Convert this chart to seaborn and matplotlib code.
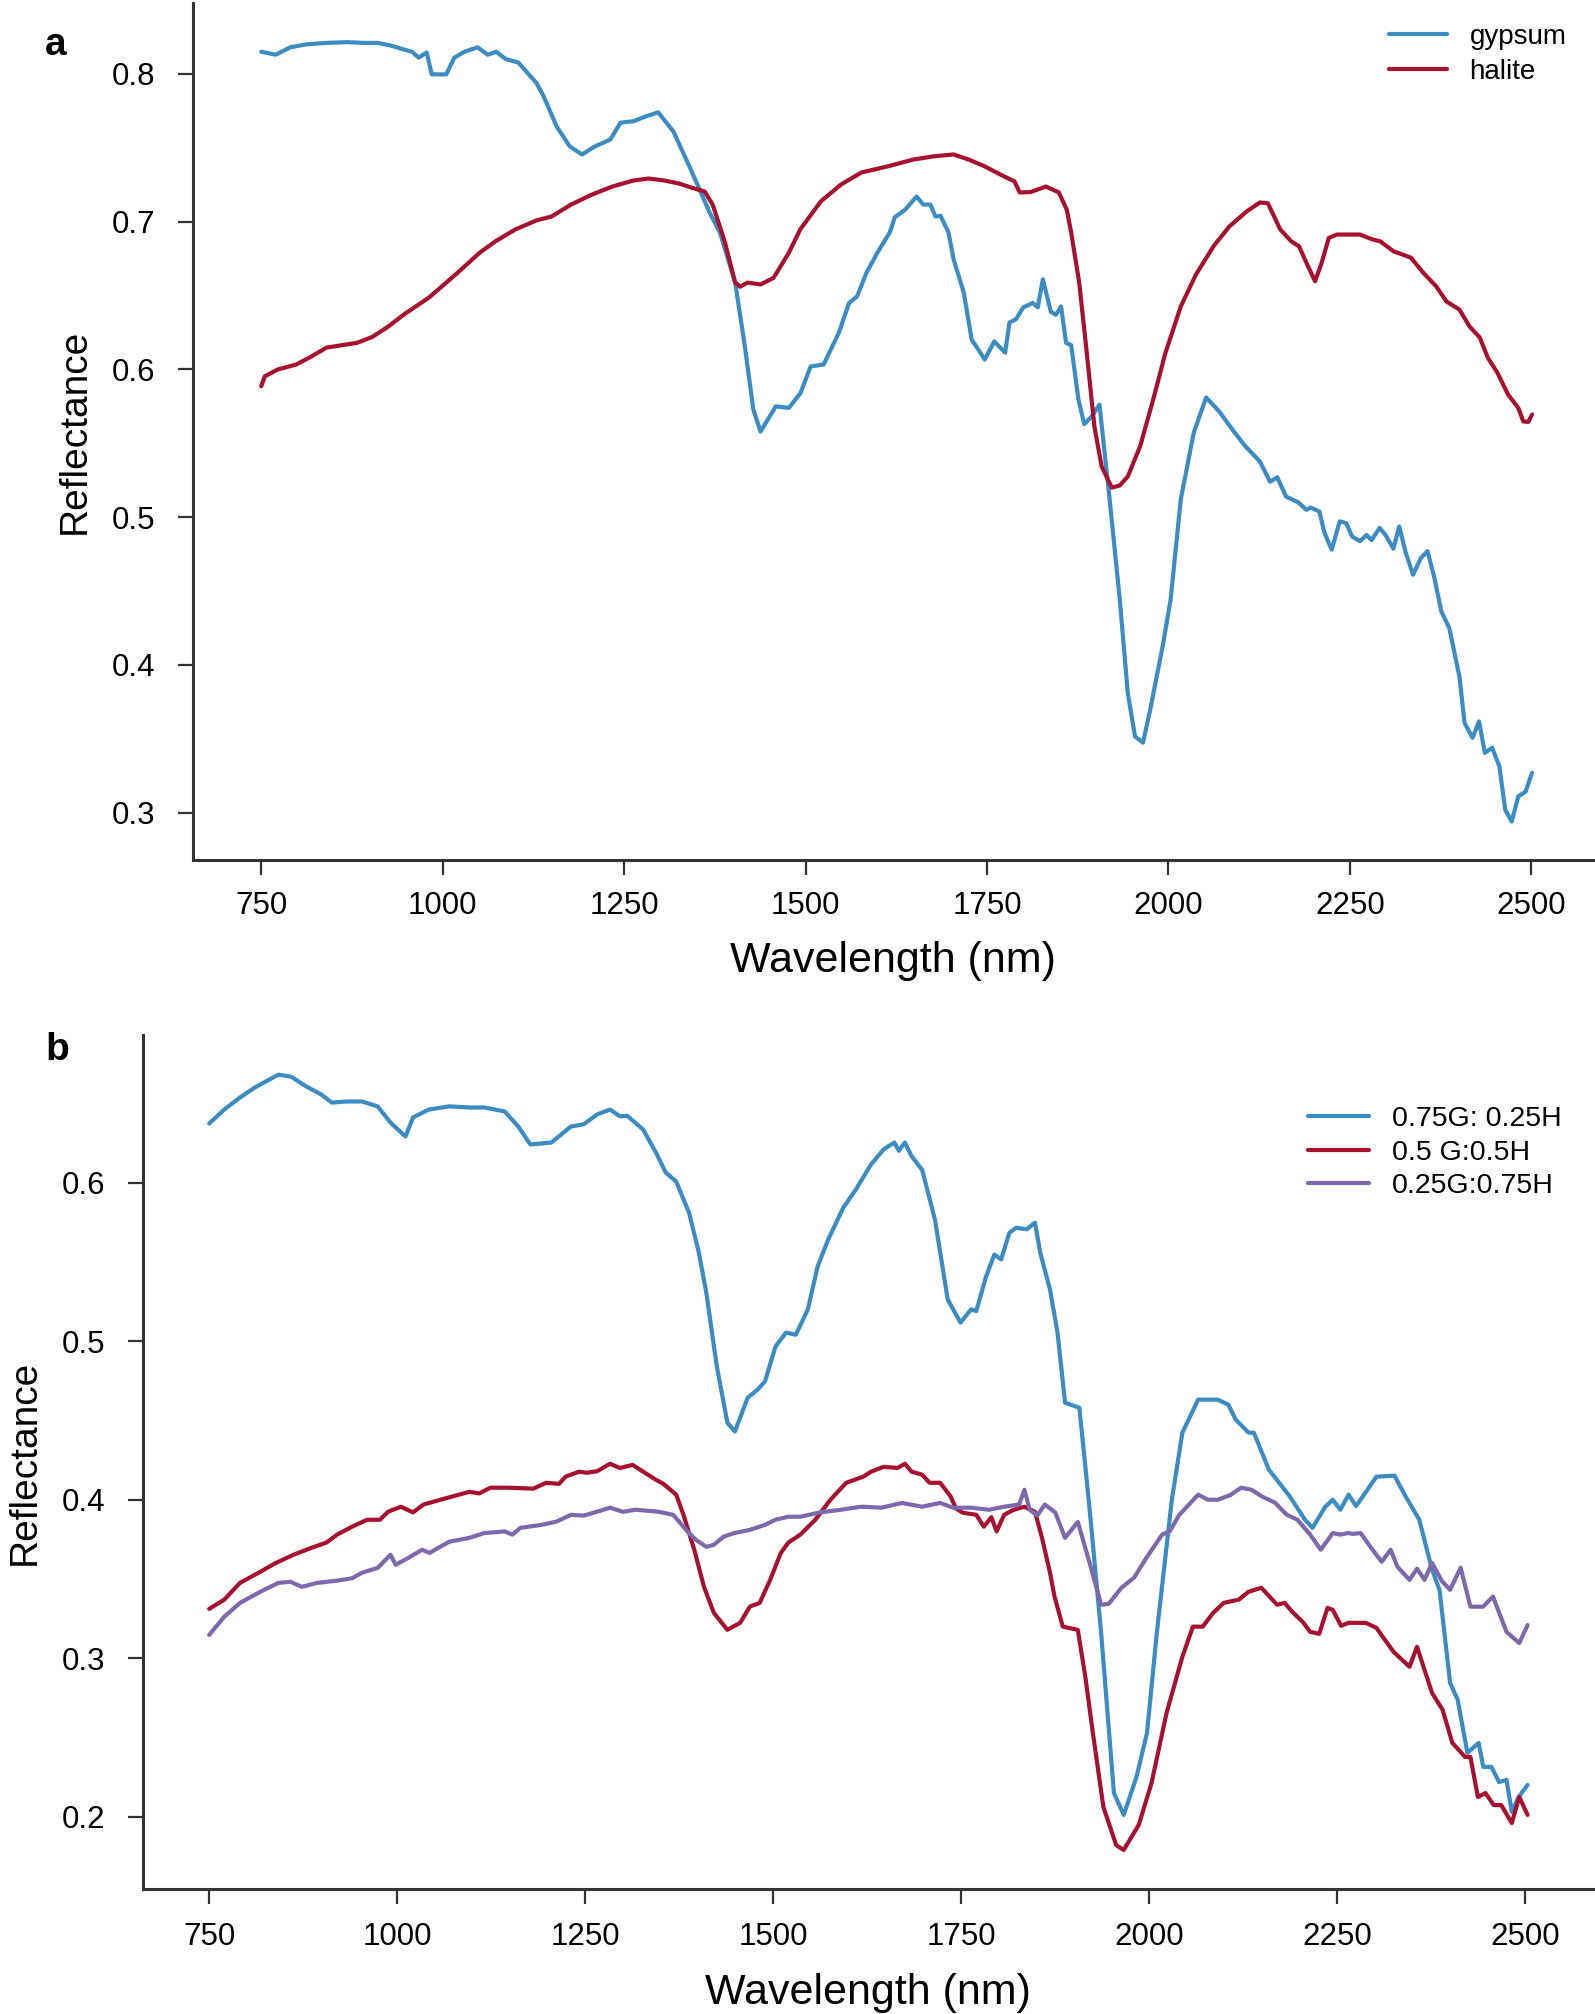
import numpy as np
import pandas as pd
import matplotlib
matplotlib.use("Agg")
import matplotlib.pyplot as plt
import seaborn as sns

# ---------------- data: panel a ----------------
gypsum_wl = [750, 770, 790, 812, 840, 869, 890, 911, 930, 946,
             958, 967, 978, 985, 1005, 1016, 1030, 1048, 1062, 1074,
             1087, 1104, 1129, 1139, 1157, 1175, 1192, 1210, 1231, 1245,
             1263, 1280, 1297, 1318, 1340, 1354, 1368, 1382, 1403, 1417,
             1428, 1438, 1459, 1477, 1493, 1507, 1525, 1546, 1560, 1571,
             1584, 1599, 1616, 1623, 1637, 1653, 1662, 1672, 1679, 1686,
             1697, 1704, 1718, 1729, 1736, 1747, 1760, 1775, 1781, 1790,
             1800, 1813, 1820, 1827, 1838, 1845, 1852, 1859, 1866, 1876,
             1884, 1894, 1905, 1919, 1933, 1944, 1954, 1965, 1975, 1992,
             2003, 2017, 2035, 2052, 2070, 2088, 2106, 2126, 2140, 2150,
             2162, 2179, 2190, 2196, 2208, 2215, 2225, 2236, 2245, 2253,
             2264, 2273, 2280, 2291, 2299, 2310, 2318, 2327, 2337, 2348,
             2357, 2366, 2376, 2387, 2401, 2408, 2419, 2428, 2436, 2446,
             2456, 2464, 2473, 2482, 2492, 2501]
gypsum_refl = [0.815, 0.813, 0.818, 0.820, 0.821, 0.8215, 0.821, 0.821, 0.819, 0.8166,
               0.815, 0.811, 0.8145, 0.7997, 0.7997, 0.811, 0.815, 0.818, 0.813, 0.815,
               0.810, 0.8078, 0.794, 0.785, 0.7645, 0.751, 0.7455, 0.751, 0.7556, 0.767,
               0.768, 0.7713, 0.774, 0.761, 0.7374, 0.7218, 0.706, 0.6927, 0.659, 0.6135,
               0.573, 0.558, 0.575, 0.574, 0.584, 0.602, 0.6034, 0.625, 0.645, 0.6494,
               0.6655, 0.679, 0.6927, 0.703, 0.708, 0.717, 0.7116, 0.7116, 0.7035, 0.704,
               0.6927, 0.6745, 0.652, 0.620, 0.615, 0.6067, 0.619, 0.6114, 0.6317, 0.634,
               0.642, 0.645, 0.642, 0.661, 0.639, 0.637, 0.6426, 0.618, 0.6165, 0.5796,
               0.563, 0.568, 0.5762, 0.512, 0.4442, 0.381, 0.3516, 0.3474, 0.37, 0.4125,
               0.4442, 0.512, 0.5574, 0.581, 0.5715, 0.5594, 0.548, 0.5377, 0.524, 0.527,
               0.514, 0.51, 0.505, 0.5065, 0.5038, 0.4895, 0.478, 0.4972, 0.496, 0.487,
               0.4837, 0.488, 0.4845, 0.4928, 0.488, 0.4787, 0.4938, 0.476, 0.4611, 0.4725,
               0.477, 0.46, 0.4363, 0.425, 0.392, 0.3608, 0.3507, 0.3618, 0.3405, 0.344,
               0.3315, 0.302, 0.294, 0.311, 0.3142, 0.327]

halite_wl = [750, 755, 773, 798, 819, 840, 882, 903, 925, 946,
             981, 1002, 1023, 1051, 1073, 1100, 1129, 1150, 1177, 1206,
             1234, 1263, 1284, 1305, 1326, 1343, 1361, 1372, 1389, 1403,
             1410, 1420, 1438, 1456, 1477, 1493, 1521, 1549, 1577, 1613,
             1648, 1676, 1704, 1725, 1747, 1768, 1788, 1795, 1810, 1831,
             1849, 1860, 1866, 1877, 1887, 1898, 1908, 1922, 1933, 1944,
             1961, 1979, 1996, 2017, 2038, 2062, 2084, 2108, 2126, 2137,
             2154, 2169, 2180, 2190, 2202, 2211, 2221, 2232, 2264, 2281,
             2292, 2310, 2334, 2351, 2369, 2383, 2401, 2415, 2429, 2440,
             2453, 2468, 2482, 2489, 2496, 2501]
halite_refl = [0.5886, 0.5954, 0.600, 0.6033, 0.6087, 0.6148, 0.618, 0.622, 0.629, 0.637,
               0.6486, 0.6575, 0.6665, 0.679, 0.6868, 0.6947, 0.7008, 0.7035, 0.7116, 0.7184,
               0.7238, 0.7279, 0.7292, 0.7279, 0.7258, 0.723, 0.7204, 0.7116, 0.686, 0.6588,
               0.656, 0.6588, 0.6575, 0.662, 0.679, 0.695, 0.7137, 0.7252, 0.7333, 0.7374,
               0.742, 0.7442, 0.7455, 0.742, 0.7374, 0.732, 0.7272, 0.7198, 0.720, 0.7238,
               0.7198, 0.708, 0.6927, 0.659, 0.6135, 0.5614, 0.5343, 0.520, 0.5215, 0.5275,
               0.548, 0.5796, 0.6114, 0.6426, 0.6643, 0.6833, 0.6968, 0.707, 0.713, 0.7125,
               0.6948, 0.6868, 0.6833, 0.6723, 0.6597, 0.672, 0.689, 0.6913, 0.6913, 0.688,
               0.6867, 0.680, 0.6757, 0.6655, 0.6562, 0.646, 0.6405, 0.629, 0.6216, 0.608,
               0.598, 0.583, 0.574, 0.5648, 0.5645, 0.5695]

# ---------------- data: panel b ----------------
mix75_wl = [750, 770, 791, 811, 842, 859, 879, 899, 913, 933,
            953, 974, 991, 1011, 1021, 1042, 1069, 1096, 1116, 1143,
            1161, 1177, 1205, 1231, 1248, 1266, 1283, 1296, 1306, 1327,
            1344, 1357, 1371, 1388, 1401, 1411, 1425, 1439, 1449, 1466,
            1479, 1489, 1503, 1517, 1530, 1546, 1559, 1573, 1593, 1610,
            1630, 1647, 1661, 1667, 1675, 1684, 1698, 1715, 1732, 1749,
            1763, 1770, 1783, 1794, 1803, 1814, 1823, 1837, 1848, 1855,
            1868, 1878, 1888, 1907, 1915, 1922, 1936, 1953, 1966, 1983,
            1997, 2010, 2030, 2044, 2065, 2091, 2105, 2115, 2132, 2139,
            2159, 2187, 2207, 2217, 2234, 2244, 2254, 2265, 2275, 2302,
            2326, 2341, 2359, 2376, 2386, 2400, 2410, 2423, 2438, 2444,
            2455, 2465, 2475, 2482, 2491, 2503]
mix75_refl = [0.6372, 0.646, 0.6536, 0.66, 0.668, 0.6667, 0.6606, 0.6555, 0.6504, 0.6511,
              0.6511, 0.648, 0.6378, 0.629, 0.641, 0.646, 0.648, 0.6473, 0.6473, 0.6448,
              0.6353, 0.624, 0.6252, 0.6353, 0.6367, 0.643, 0.646, 0.6418, 0.642, 0.6334,
              0.6189, 0.6063, 0.6006, 0.581, 0.556, 0.5306, 0.484, 0.4486, 0.443, 0.4643,
              0.4694, 0.4745, 0.4966, 0.5054, 0.504, 0.52, 0.547, 0.564, 0.584, 0.5957,
              0.6114, 0.621, 0.6252, 0.62, 0.6252, 0.6166, 0.608, 0.5767, 0.5262, 0.5117,
              0.52, 0.519, 0.5407, 0.5546, 0.5515, 0.5683, 0.5715, 0.5705, 0.5747, 0.5558,
              0.5325, 0.5054, 0.4612, 0.458, 0.421, 0.3874, 0.316, 0.2151, 0.2013, 0.2252,
              0.253, 0.316, 0.4, 0.4423, 0.4631, 0.4631, 0.46, 0.4505, 0.4423, 0.4423,
              0.419, 0.402, 0.3874, 0.3823, 0.3956, 0.4, 0.3937, 0.4032, 0.396, 0.4145,
              0.4152, 0.402, 0.3874, 0.356, 0.343, 0.2845, 0.274, 0.2404, 0.2467, 0.2316,
              0.2316, 0.222, 0.2234, 0.2032, 0.2126, 0.2202]

mix50_wl = [750, 770, 791, 818, 838, 862, 886, 906, 920, 940,
            960, 977, 988, 1005, 1021, 1035, 1062, 1096, 1109, 1124,
            1148, 1181, 1198, 1215, 1224, 1242, 1252, 1266, 1283, 1296,
            1313, 1327, 1344, 1354, 1371, 1381, 1395, 1408, 1421, 1439,
            1456, 1469, 1482, 1496, 1510, 1520, 1536, 1556, 1576, 1597,
            1620, 1630, 1647, 1665, 1675, 1684, 1698, 1708, 1722, 1736,
            1743, 1752, 1770, 1780, 1790, 1797, 1807, 1820, 1834, 1848,
            1857, 1868, 1874, 1885, 1905, 1915, 1925, 1939, 1956, 1966,
            1986, 2003, 2023, 2044, 2058, 2071, 2085, 2099, 2119, 2132,
            2149, 2170, 2180, 2190, 2204, 2214, 2226, 2237, 2244, 2255,
            2265, 2288, 2302, 2325, 2346, 2356, 2376, 2390, 2403, 2420,
            2427, 2437, 2447, 2458, 2468, 2482, 2492, 2503]
mix50_refl = [0.3312, 0.337, 0.3476, 0.3546, 0.36, 0.3653, 0.3697, 0.373, 0.378, 0.383,
              0.3874, 0.3874, 0.3925, 0.3956, 0.392, 0.397, 0.4006, 0.405, 0.404, 0.4076,
              0.4076, 0.407, 0.4107, 0.41, 0.4146, 0.4177, 0.417, 0.418, 0.4227, 0.42,
              0.422, 0.4177, 0.4126, 0.41, 0.4032, 0.39, 0.3685, 0.345, 0.3287, 0.318,
              0.3224, 0.3327, 0.335, 0.3496, 0.3664, 0.373, 0.378, 0.3874, 0.4, 0.4107,
              0.4146, 0.4177, 0.4208, 0.42, 0.4227, 0.4177, 0.4158, 0.4107, 0.4107, 0.402,
              0.3945, 0.3918, 0.3905, 0.383, 0.389, 0.38, 0.3905, 0.3937, 0.3956, 0.3924,
              0.3767, 0.354, 0.339, 0.32, 0.318, 0.2883, 0.253, 0.2063, 0.1823, 0.1792,
              0.195, 0.2214, 0.2656, 0.301, 0.32, 0.32, 0.3287, 0.335, 0.337, 0.342,
              0.3445, 0.3338, 0.335, 0.3294, 0.323, 0.3167, 0.3155, 0.3318, 0.3306, 0.3205,
              0.3224, 0.3224, 0.3192, 0.304, 0.2947, 0.3073, 0.2782, 0.2676, 0.2467, 0.2378,
              0.2378, 0.2126, 0.2151, 0.2075, 0.2075, 0.1962, 0.2126, 0.2013]

mix25_wl = [750, 770, 791, 818, 842, 858, 873, 894, 920, 940,
            953, 974, 991, 998, 1015, 1033, 1043, 1069, 1096, 1116,
            1143, 1153, 1164, 1192, 1211, 1231, 1248, 1261, 1283, 1300,
            1317, 1347, 1367, 1384, 1397, 1411, 1421, 1434, 1448, 1469,
            1489, 1503, 1520, 1536, 1562, 1590, 1617, 1644, 1671, 1698,
            1722, 1739, 1763, 1787, 1807, 1827, 1834, 1841, 1851, 1861,
            1875, 1888, 1905, 1922, 1936, 1946, 1963, 1980, 1997, 2017,
            2027, 2040, 2065, 2078, 2091, 2108, 2122, 2136, 2150, 2167,
            2183, 2197, 2214, 2228, 2244, 2254, 2264, 2271, 2281, 2295,
            2309, 2321, 2330, 2346, 2356, 2366, 2376, 2389, 2400, 2414,
            2427, 2444, 2457, 2475, 2492, 2503]
mix25_refl = [0.3148, 0.3262, 0.335, 0.342, 0.3476, 0.3483, 0.3451, 0.3476, 0.349, 0.3505,
              0.354, 0.357, 0.3653, 0.359, 0.3634, 0.3685, 0.3665, 0.3735, 0.376, 0.379,
              0.38, 0.378, 0.3823, 0.3842, 0.3861, 0.3905, 0.39, 0.3918, 0.395, 0.3924,
              0.3937, 0.3925, 0.3905, 0.381, 0.3748, 0.3703, 0.3716, 0.3767, 0.379, 0.381,
              0.3842, 0.3874, 0.3893, 0.3893, 0.392, 0.3937, 0.3956, 0.395, 0.398, 0.3956,
              0.398, 0.395, 0.395, 0.3937, 0.3956, 0.397, 0.4063, 0.3937, 0.39, 0.397,
              0.392, 0.376, 0.386, 0.358, 0.3338, 0.3344, 0.3445, 0.351, 0.364, 0.378,
              0.38, 0.3905, 0.4032, 0.4, 0.4, 0.403, 0.4076, 0.4063, 0.402, 0.3982,
              0.3905, 0.3874, 0.378, 0.3685, 0.379, 0.378, 0.379, 0.3785, 0.379, 0.3697,
              0.3609, 0.3685, 0.3577, 0.3495, 0.3565, 0.3495, 0.3602, 0.3488, 0.3432, 0.3572,
              0.3326, 0.3326, 0.339, 0.3167, 0.3097, 0.321]

labels_a = ["gypsum", "halite"]
labels_b = ["0.75G: 0.25H", "0.5 G:0.5H", "0.25G:0.75H"]
xticks = [750, 1000, 1250, 1500, 1750, 2000, 2250, 2500]
yticks_a = [0.3, 0.4, 0.5, 0.6, 0.7, 0.8]
yticks_b = [0.2, 0.3, 0.4, 0.5, 0.6]

BLUE = "#3a8cc3"
RED = "#a8102f"
PURPLE = "#7c69ac"

df_a = pd.concat([
    pd.DataFrame({"wl": gypsum_wl, "refl": gypsum_refl, "sample": labels_a[0]}),
    pd.DataFrame({"wl": halite_wl, "refl": halite_refl, "sample": labels_a[1]}),
], ignore_index=True)
df_b = pd.concat([
    pd.DataFrame({"wl": mix75_wl, "refl": mix75_refl, "sample": labels_b[0]}),
    pd.DataFrame({"wl": mix50_wl, "refl": mix50_refl, "sample": labels_b[1]}),
    pd.DataFrame({"wl": mix25_wl, "refl": mix25_refl, "sample": labels_b[2]}),
], ignore_index=True)

sns.set_style("ticks")
plt.rcParams["font.family"] = ["Liberation Sans", "DejaVu Sans"]
plt.rcParams["text.color"] = "black"
plt.rcParams["axes.labelcolor"] = "black"

W, H = 1595, 2014
fig = plt.figure(figsize=(W / 100, H / 100), dpi=100)
axa = fig.add_axes([193 / W, 1 - 860 / H, (1593 - 193) / W, (860 - 3) / H])
axb = fig.add_axes([143 / W, 1 - 1889 / H, (1593 - 143) / W, (1889 - 1035) / H])

LW = 3.0
sns.lineplot(data=df_a, x="wl", y="refl", hue="sample", hue_order=labels_a,
             palette=[BLUE, RED], estimator=None, sort=False, linewidth=LW, ax=axa)
sns.lineplot(data=df_b, x="wl", y="refl", hue="sample", hue_order=labels_b,
             palette=[BLUE, RED, PURPLE], estimator=None, sort=False, linewidth=LW, ax=axb)

SPINE = "#333333"
for ax, yt, lims, ypad, xpad, ylp, xlp in [
        (axa, yticks_a, ((656, 2585), (0.268, 0.848)), 16, 11.5, 14, 14),
        (axb, yticks_b, ((662, 2590), (0.1546, 0.693)), 16, 13, 14, 15)]:
    sns.despine(ax=ax)
    ax.set_xlim(*lims[0])
    ax.set_ylim(*lims[1])
    ax.set_xticks(xticks)
    ax.set_yticks(yt)
    ax.set_yticklabels([f"{v:.1f}" for v in yt])
    for s in ("left", "bottom"):
        ax.spines[s].set_color(SPINE)
        ax.spines[s].set_linewidth(2.2)
    ax.tick_params(axis="both", length=11, width=1.6, color=SPINE,
                   labelsize=22.5, labelcolor="black", direction="out")
    ax.tick_params(axis="y", pad=ypad)
    ax.tick_params(axis="x", pad=xpad)
    ax.set_xlabel("Wavelength (nm)", fontsize=31, labelpad=xlp, color="black")
    ax.set_ylabel("Reflectance", fontsize=28, labelpad=ylp, color="black")
    ax.grid(False)

h, l = axa.get_legend_handles_labels()
axa.legend(h, l, loc="upper left", bbox_to_anchor=(1389 / W, 1 - 24 / H),
           bbox_transform=fig.transFigure, frameon=False, fontsize=20,
           handlelength=2.1, handletextpad=0.8, labelspacing=0.33,
           borderpad=0, borderaxespad=0, labelcolor="black")
h, l = axb.get_legend_handles_labels()
axb.legend(h, l, loc="upper left", bbox_to_anchor=(1308 / W, 1 - 1106 / H),
           bbox_transform=fig.transFigure, frameon=False, fontsize=20.5,
           handlelength=2.15, handletextpad=0.8, labelspacing=0.27,
           borderpad=0, borderaxespad=0, labelcolor="black")

fig.text(45 / W, 1 - 55 / H, "a", fontsize=28, fontweight="bold", va="baseline")
fig.text(45 / W, 1 - 1060 / H, "b", fontsize=28, fontweight="bold", va="baseline")

fig.savefig("out.png", dpi=100, facecolor="white")
